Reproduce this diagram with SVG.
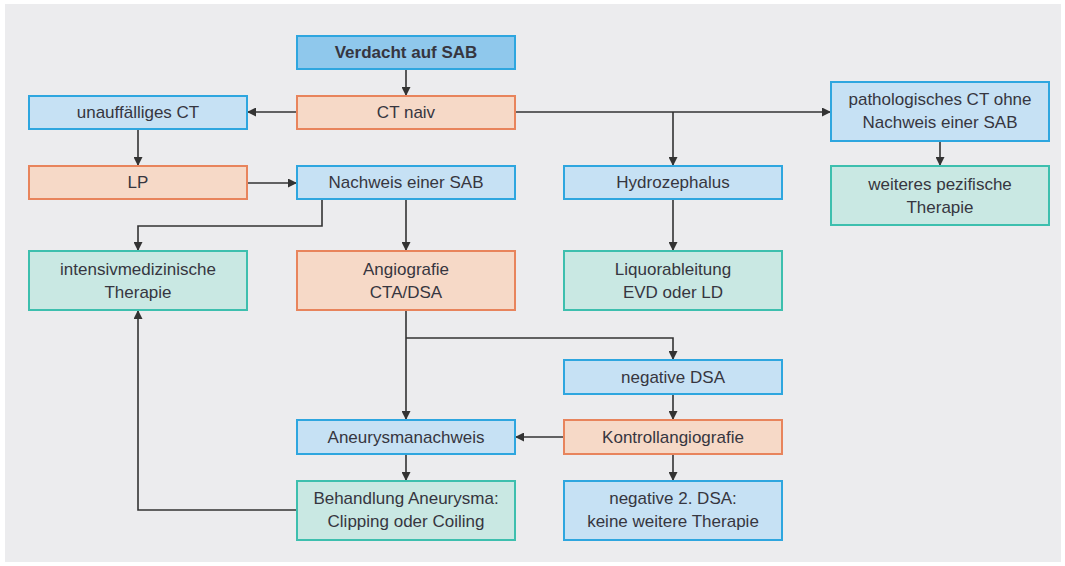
<svg xmlns="http://www.w3.org/2000/svg" width="1065" height="566" viewBox="0 0 1065 566">
<defs>
<marker id="ah" viewBox="0 0 10 10" refX="10" refY="5" markerWidth="9" markerHeight="9" markerUnits="userSpaceOnUse" orient="auto">
<path d="M0,0 L10,5 L0,10 z" fill="#333"/>
</marker>
<style>
.bg{fill:#ececee}
.n rect{stroke-width:2}
.blue rect{fill:#c6e1f4;stroke:#2ea6df}
.dblue rect{fill:#8fc8ec;stroke:#2ea6df}
.orange rect{fill:#f6d9c7;stroke:#e8845c}
.green rect{fill:#c9e8e3;stroke:#3dbfae}
.n text{font-family:"Liberation Sans",Arial,sans-serif;font-size:17px;fill:#363640;text-anchor:middle}
.b text{font-weight:bold}
.c path{fill:none;stroke:#333;stroke-width:1.6;marker-end:url(#ah)}
</style>
</defs>
<rect class="bg" x="5" y="4" width="1056" height="558"/>
<g class="c">
<path d="M406,69 V96"/>
<path d="M297,112 H247"/>
<path d="M515,112 H831"/>
<path d="M673,112 V166"/>
<path d="M940,141 V166"/>
<path d="M138,129 V166"/>
<path d="M247,183 H297"/>
<path d="M406,199 V251"/>
<path d="M322,199 V226 H138 V251"/>
<path d="M673,199 V251"/>
<path d="M406,310 V420"/>
<path d="M406,338 H673 V360"/>
<path d="M673,394 V420"/>
<path d="M564,437 H515"/>
<path d="M673,454 V481"/>
<path d="M406,454 V481"/>
<path d="M297,510 H138 V310"/>
</g>
<g id="verdacht" class="n dblue b"><rect x="297" y="36" width="218" height="33"/><text x="406" y="58">Verdacht auf SAB</text></g>
<g id="ctnaiv" class="n orange"><rect x="297" y="96" width="218" height="33"/><text x="406" y="118">CT naiv</text></g>
<g id="unauff" class="n blue"><rect x="29" y="96" width="218" height="33"/><text x="138" y="118">unauffälliges CT</text></g>
<g id="patho" class="n blue"><rect x="831" y="82" width="218" height="59"/><text x="940" y="105">pathologisches CT ohne</text><text x="940" y="128">Nachweis einer SAB</text></g>
<g id="lp" class="n orange"><rect x="29" y="166" width="218" height="33"/><text x="138" y="188">LP</text></g>
<g id="nachweis" class="n blue"><rect x="297" y="166" width="218" height="33"/><text x="406" y="188">Nachweis einer SAB</text></g>
<g id="hydro" class="n blue"><rect x="564" y="166" width="218" height="33"/><text x="673" y="188">Hydrozephalus</text></g>
<g id="weiteres" class="n green"><rect x="831" y="166" width="218" height="59"/><text x="940" y="190">weiteres pezifische</text><text x="940" y="213">Therapie</text></g>
<g id="intensiv" class="n green"><rect x="29" y="251" width="218" height="59"/><text x="138" y="275">intensivmedizinische</text><text x="138" y="298">Therapie</text></g>
<g id="angio" class="n orange"><rect x="297" y="251" width="218" height="59"/><text x="406" y="275">Angiografie</text><text x="406" y="298">CTA/DSA</text></g>
<g id="liquor" class="n green"><rect x="564" y="251" width="218" height="59"/><text x="673" y="275">Liquorableitung</text><text x="673" y="298">EVD oder LD</text></g>
<g id="negdsa" class="n blue"><rect x="564" y="360" width="218" height="34"/><text x="673" y="383">negative DSA</text></g>
<g id="aneurysma" class="n blue"><rect x="297" y="420" width="218" height="34"/><text x="406" y="443">Aneurysmanachweis</text></g>
<g id="kontroll" class="n orange"><rect x="564" y="420" width="218" height="34"/><text x="673" y="443">Kontrollangiografie</text></g>
<g id="behandlung" class="n green"><rect x="297" y="481" width="218" height="59"/><text x="406" y="504">Behandlung Aneurysma:</text><text x="406" y="527">Clipping oder Coiling</text></g>
<g id="neg2" class="n blue"><rect x="564" y="481" width="218" height="59"/><text x="673" y="504">negative 2. DSA:</text><text x="673" y="527">keine weitere Therapie</text></g>
</svg>
